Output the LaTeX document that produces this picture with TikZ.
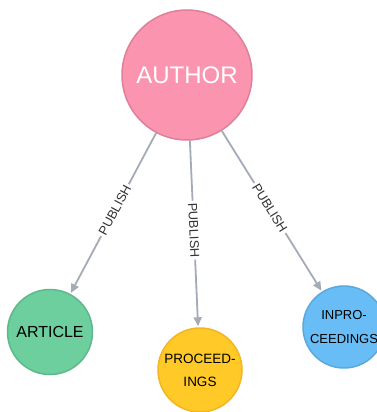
\documentclass[tikz,border=0pt]{standalone}
\usepackage{fontspec}
\setmainfont{Liberation Sans}
\usetikzlibrary{arrows.meta}
\definecolor{pinkfill}{HTML}{FB95AF}
\definecolor{pinkdraw}{HTML}{DF7F99}
\definecolor{greenfill}{HTML}{6DCE9E}
\definecolor{greendraw}{HTML}{5DB88A}
\definecolor{yellowfill}{HTML}{FFC928}
\definecolor{yellowdraw}{HTML}{F4B523}
\definecolor{bluefill}{HTML}{68BDF6}
\definecolor{bluedraw}{HTML}{5AA8DD}
\definecolor{edgegray}{HTML}{A5ABB6}
\definecolor{labelgray}{HTML}{333333}
\begin{document}
\begin{tikzpicture}[x=1pt,y=-1pt,
  entity/.style={circle,line width=1.5pt,inner sep=0pt,align=center,text=black},
  rel/.style={draw=edgegray,line width=1.8pt,-{Triangle[length=9pt,width=8pt]},shorten >=1pt},
  rellabel/.style={sloped,pos=0.48,fill=white,inner sep=2pt,text=labelgray,font=\fontsize{12.8}{15}\selectfont}
]
\useasboundingbox (0,0) rectangle (377,412);
\node[entity,fill=pinkfill,draw=pinkdraw,minimum size=130pt,text=white,font=\fontsize{24}{28}\selectfont] (author) at (187,75) {AUTHOR};
\node[entity,fill=greenfill,draw=greendraw,minimum size=85pt,font=\fontsize{16}{19}\selectfont] (article) at (50,332) {ARTICLE};
\node[entity,fill=yellowfill,draw=yellowdraw,minimum size=84pt,font=\fontsize{13.5}{23}\selectfont] (proc) at (200,370) {PROCEED-\\INGS};
\node[entity,fill=bluefill,draw=bluedraw,minimum size=82pt,font=\fontsize{13}{24}\selectfont] (inproc) at (344,327) {INPRO-\\CEEDINGS};
\draw[rel] (author) -- node[rellabel] (l1) {PUBLISH} (article);
\draw[rel] (author) -- node[rellabel] (l2) {PUBLISH} (proc);
\draw[rel] (author) -- node[rellabel] (l3) {PUBLISH} (inproc);
\end{tikzpicture}
\end{document}
